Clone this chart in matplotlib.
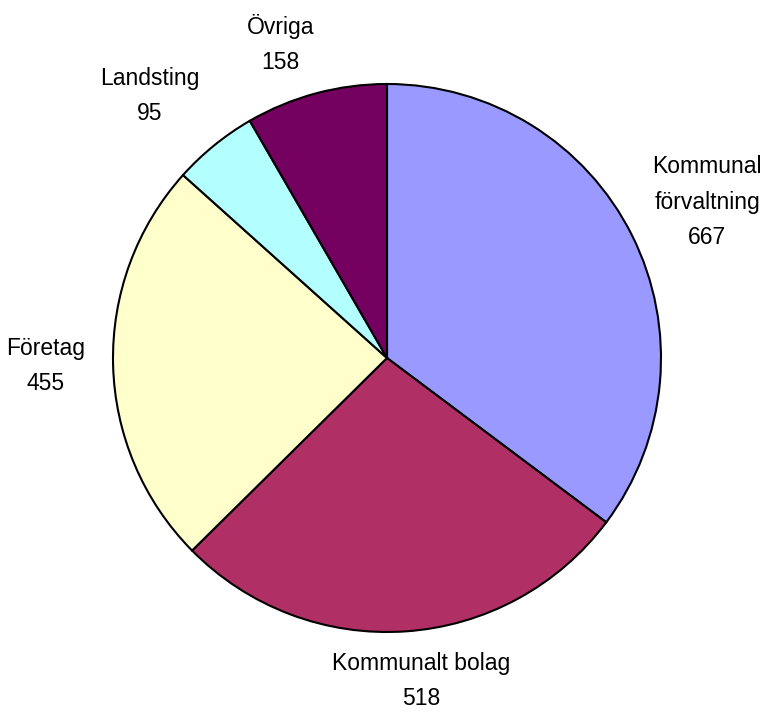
import matplotlib
matplotlib.use("Agg")
import matplotlib.pyplot as plt
import numpy as np

categories = ["Kommunal\nförvaltning", "Kommunalt bolag", "Företag", "Landsting", "Övriga"]
values = [667, 518, 455, 95, 158]
colors = ["#9999FF", "#B03066", "#FFFFCC", "#B3FFFF", "#74005F"]

# label anchor positions (axes data units, radius = 1)
label_pos = [(1.168, 0.569), (0.124, -1.179), (-1.245, -0.029), (-0.865, 0.956), (-0.39, 1.146)]

plt.rcParams['font.family'] = ['Liberation Sans', 'DejaVu Sans']

fig = plt.figure(figsize=(7.74, 7.16), dpi=100)
ax = fig.add_axes([113/774, (716-632)/716, 548/774, 548/716])
wedges, _ = ax.pie(values, colors=colors, startangle=90, counterclock=False,
                   radius=1, center=(0, 0),
                   wedgeprops=dict(edgecolor="black", linewidth=1.5))
for lab, v, (x, y) in zip(categories, values, label_pos):
    ax.text(x, y, f"{lab}\n{v}", ha="center", va="center", fontsize=16.5,
            linespacing=1.7, color="black")
ax.set_xlim(-1, 1)
ax.set_ylim(-1, 1)
ax.set_aspect("equal")
ax.axis("off")
fig.savefig("out.png", dpi=100)
